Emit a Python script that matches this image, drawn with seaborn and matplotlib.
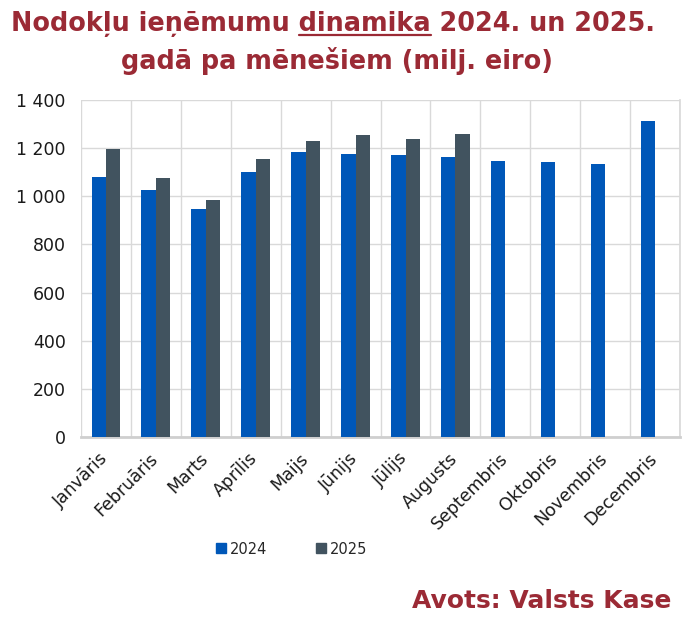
import numpy as np
import pandas as pd
import seaborn as sns
from matplotlib import pyplot as plt
from matplotlib.lines import Line2D
from matplotlib.ticker import FuncFormatter, MultipleLocator
from matplotlib.transforms import ScaledTranslation

# chart data (milj. eiro)
months = ['Janvāris', 'Februāris', 'Marts', 'Aprīlis', 'Maijs', 'Jūnijs',
          'Jūlijs', 'Augusts', 'Septembris', 'Oktobris', 'Novembris', 'Decembris']
years = ['2024', '2025']
values_2024 = [1080, 1026, 947, 1101, 1184, 1176, 1171, 1163, 1147, 1142, 1134, 1313]
values_2025 = [1196, 1076, 985, 1155, 1230, 1255, 1238, 1259, np.nan, np.nan, np.nan, np.nan]

blue = '#0057B8'
slate = '#41535F'
dark_red = '#9B2A35'
grid_col = '#D9D9D9'
title_size = 18.4

df = pd.DataFrame({
    'month': months * 2,
    'year': [years[0]] * 12 + [years[1]] * 12,
    'value': values_2024 + values_2025,
})

sns.set_theme(style='white')
plt.rcParams['font.family'] = ['DejaVu Sans']

fig = plt.figure(figsize=(6.89, 6.26), dpi=100)
ax = fig.add_axes([0.1176, 0.3019, 0.8695, 0.5384])

sns.barplot(data=df, x='month', y='value', hue='year', order=months,
            hue_order=years, palette={'2024': blue, '2025': slate},
            saturation=1, width=0.58, gap=0, linewidth=0, errorbar=None,
            ax=ax, zorder=3)

ax.set_ylim(0, 1400)
ax.set_xlim(-0.5, len(months) - 0.5)
ax.yaxis.set_major_locator(MultipleLocator(200))
ax.yaxis.set_major_formatter(FuncFormatter(lambda v, p: '{:,.0f}'.format(v).replace(',', ' ')))
ax.set_xticks(np.arange(len(months)))
ax.set_xticklabels(months, rotation=45, ha='right', va='top',
                   rotation_mode='anchor', fontsize=12.5)
ax.set_xticks(np.arange(len(months) + 1) - 0.5, minor=True)
ax.tick_params(axis='y', labelsize=12.5, length=0, pad=11)
ax.tick_params(axis='x', which='both', length=0, pad=9)
shift = ScaledTranslation(-7 / 100, 0, fig.dpi_scale_trans)
for lab in ax.get_xticklabels():
    lab.set_transform(lab.get_transform() + shift)
for lab in ax.get_yticklabels() + ax.get_xticklabels():
    lab.set_color('#1a1a1a')

ax.grid(axis='y', which='major', color=grid_col, linewidth=1, zorder=0)
ax.grid(axis='x', which='minor', color=grid_col, linewidth=1, zorder=0)
ax.grid(axis='x', which='major', visible=False)
ax.set_xlabel('')
ax.set_ylabel('')

for side in ['top', 'left']:
    ax.spines[side].set_visible(False)
ax.spines['right'].set_color(grid_col)
ax.spines['bottom'].set_color('#CFCFCF')
ax.spines['bottom'].set_linewidth(2)

ax.get_legend().remove()
handles = [Line2D([], [], marker='s', linestyle='', markersize=7, color=c) for c in (blue, slate)]
fig.legend(handles, years, loc='center', bbox_to_anchor=(0.423, 0.123), ncol=2,
           frameon=False, fontsize=10.5, handletextpad=0.2, columnspacing=3.3,
           handlelength=0.8)

# title with underlined word
line1 = 'Nodokļu ieņēmumu dinamika 2024. un 2025.'
title_kw = dict(fontsize=title_size, fontweight='bold', color=dark_red, ha='center', va='baseline')
t1 = fig.text(0.484, 1 - 31 / 626, line1, **title_kw)
fig.text(0.489, 1 - 69 / 626, 'gadā pa mēnešiem (milj. eiro)', **title_kw)

fig.canvas.draw()
renderer = fig.canvas.get_renderer()
bb = t1.get_window_extent(renderer)


def text_width(s):
    tmp = fig.text(0, 0, s, fontsize=title_size, fontweight='bold')
    w = tmp.get_window_extent(renderer).width
    tmp.remove()
    return w


end_x = bb.x0 + text_width('Nodokļu ieņēmumu dinamika')
start_x = end_x - text_width('dinamika')
fw = fig.bbox.width
uy = 1 - 35 / 626
fig.add_artist(Line2D([start_x / fw, end_x / fw], [uy, uy], color=dark_red, linewidth=1.6))

fig.text(0.975, 1 - 608 / 626, 'Avots: Valsts Kase', fontsize=18, fontweight='bold',
         color=dark_red, ha='right', va='baseline')

fig.savefig('out.png', dpi=100)
